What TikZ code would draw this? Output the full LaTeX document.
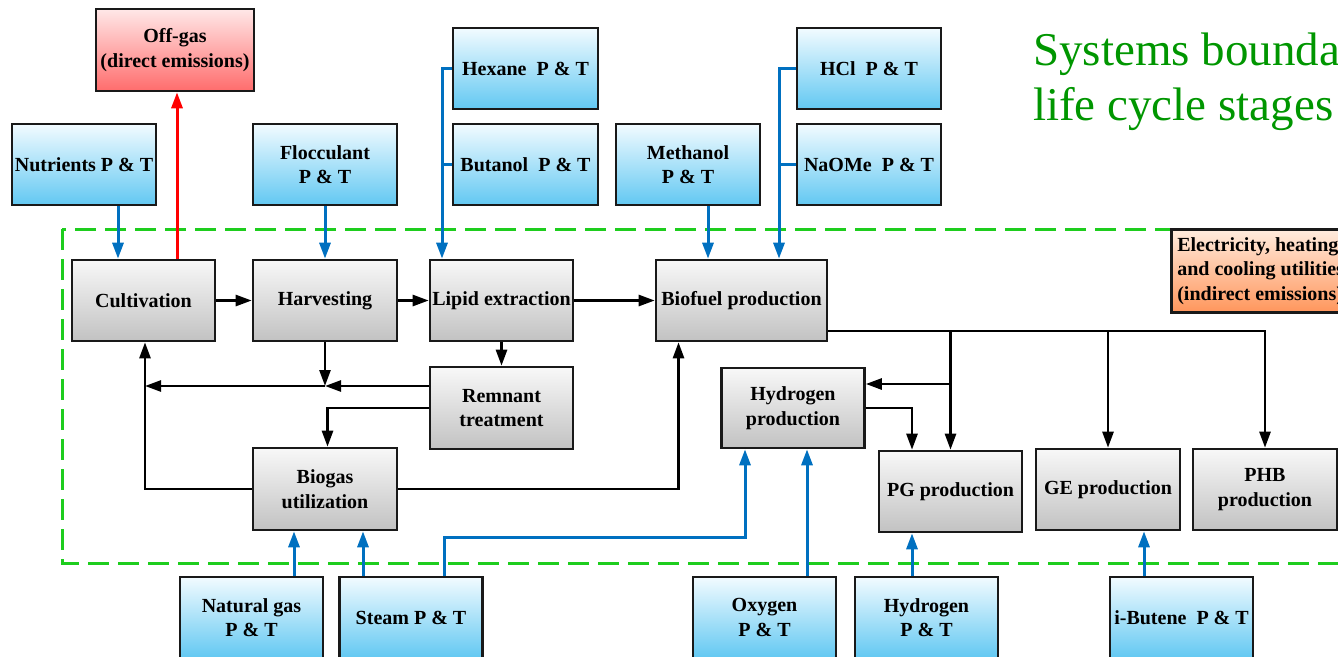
\documentclass[tikz,border=0pt]{standalone}
\usepackage{fontspec}
\setmainfont{Liberation Serif}
\usetikzlibrary{arrows.meta}
\definecolor{feedtop}{RGB}{242,251,255}
\definecolor{feedbot}{RGB}{98,200,242}
\definecolor{proctop}{RGB}{248,248,248}
\definecolor{procbot}{RGB}{194,194,194}
\definecolor{gastop}{RGB}{255,232,232}
\definecolor{gasbot}{RGB}{255,108,108}
\definecolor{utiltop}{RGB}{255,236,222}
\definecolor{utilbot}{RGB}{255,150,92}
\definecolor{lineblue}{RGB}{0,112,192}
\definecolor{bordergreen}{RGB}{30,205,30}
\definecolor{titlegreen}{RGB}{0,150,0}
\begin{document}
\begin{tikzpicture}[x=1pt,y=-1pt,
  box/.style={draw=black!90, line width=2.6pt, minimum height=81pt, inner sep=1pt,
    align=center, font=\fontsize{20}{24.5}\selectfont\bfseries},
  feed/.style={box, minimum width=144pt, top color=feedtop, bottom color=feedbot},
  proc/.style={box, minimum width=143pt, top color=proctop, bottom color=procbot},
  arr/.style={line width=2.6pt, -{Triangle[length=16pt,width=11pt]}},
  barr/.style={line width=3pt, draw=lineblue, -{Triangle[length=16pt,width=11pt]}},
  bline/.style={line width=3pt, draw=lineblue},
  rarr/.style={line width=3pt, draw=red, -{Triangle[length=16pt,width=11pt]}},
]
\useasboundingbox (0,0) rectangle (1338,656);

% system boundary
\draw[bordergreen, line width=3pt, dash pattern=on 21pt off 9pt] (62,229) rectangle (1380,563);

% title
\node[anchor=base west, inner sep=0, text=titlegreen, font=\fontsize{47}{56}\selectfont] (title1) at (1033,65) {Systems bounda};
\node[anchor=base west, inner sep=0, text=titlegreen, font=\fontsize{47}{56}\selectfont] (title2) at (1033,120.7) {life cycle stages};

% emissions and utilities
\node[box, minimum width=158pt, minimum height=82pt, top color=gastop, bottom color=gasbot] (offgas) at (175,50) {Off-gas\\(direct emissions)};
\node[box, anchor=north west, minimum height=83pt, align=left, inner xsep=6pt, top color=utiltop, bottom color=utilbot] (util) at (1170,228) {Electricity, heating\\and cooling utilities\\(indirect emissions)};

% feedstock inputs, top row
\node[feed] (nut) at (84,164.5) {Nutrients P \& T};
\node[feed] (floc) at (325,164.5) {Flocculant\\P \& T};
\node[feed, minimum width=145pt] (hex) at (525.5,68.5) {Hexane\ \ P \& T};
\node[feed, minimum width=145pt] (but) at (525.5,164.5) {Butanol\ \ P \& T};
\node[feed] (meth) at (688,164.5) {Methanol\\P \& T};
\node[feed] (hcl) at (869,68.5) {HCl\ \ P \& T};
\node[feed] (naome) at (869,164.5) {NaOMe\ \ P \& T};

% process stages
\node[proc] (cult) at (143.5,300.5) {Cultivation};
\node[proc, minimum width=144pt] (harv) at (325,300.5) {Harvesting};
\node[proc] (lipid) at (501.5,300.5) {Lipid extraction};
\node[proc, minimum width=171pt] (bio) at (741.5,300.5) {Biofuel production};
\node[proc, minimum height=82pt] (rem) at (501.5,408) {Remnant\\treatment};
\node[proc, minimum width=144pt, minimum height=82pt] (bg) at (325,489) {Biogas\\utilization};
\node[proc, minimum height=80pt] (h2) at (793,408) {Hydrogen\\production};
\node[proc] (pg) at (950.5,491.5) {PG production};
\node[proc, minimum width=144pt] (ge) at (1108,489.5) {GE production};
\node[proc, minimum width=144pt] (phb) at (1265,489.5) {PHB\\production};

% feedstock inputs, bottom row
\node[feed, minimum width=143pt] (ng) at (251.5,617.5) {Natural gas\\P \& T};
\node[feed, minimum width=143pt] (steam) at (411,617.5) {Steam P \& T};
\node[feed, minimum width=143pt] (oxy) at (764.5,617.5) {Oxygen\\P \& T};
\node[feed, minimum width=143pt] (hyd) at (926.5,617.5) {Hydrogen\\P \& T};
\node[feed, minimum width=143pt] (ibut) at (1181.5,617.5) {i-Butene\ \ P \& T};

% inputs from above
\coordinate (nutout) at ([xshift=34]nut.south);
\draw[barr] (nutout) -- (nutout |- cult.north);
\coordinate (offin) at ([xshift=33.5]cult.north);
\draw[rarr] (offin) -- (offin |- offgas.south);
\draw[barr] (floc.south) -- (harv.north);
\coordinate (lipin) at ([xshift=-59.5]lipid.north);
\draw[barr] (hex.west) -| (lipin);
\draw[bline] (but.west) -- (but.west -| lipin);
\coordinate (methin) at ([xshift=-33.5]bio.north);
\draw[barr] (methin |- meth.south) -- (methin);
\coordinate (hclin) at ([xshift=37.5]bio.north);
\draw[barr] (hcl.west) -| (hclin);
\draw[bline] (naome.west) -- (naome.west -| hclin);

% main chain
\draw[arr] (cult) -- (harv);
\draw[arr] (harv) -- (lipid);
\draw[arr] (lipid) -- (bio);
\draw[arr] (lipid.south) -- (rem.north);

% recycle loops
\coordinate (remup) at ([yshift=22]rem.west);
\coordinate (mix) at (harv.south |- remup);
\coordinate (cultin) at ([xshift=1.5]cult.south);
\draw[arr] (harv.south) -- (mix);
\draw[arr] (remup) -- (mix);
\draw[arr] (mix) -- (mix -| cultin);
\coordinate (bgin) at ([xshift=2.5]bg.north);
\draw[arr] (rem.west) -| (bgin);
\draw[arr] (bg.west) -| (cultin);
\coordinate (bioin) at ([xshift=-63]bio.south);
\draw[arr] (bg.east) -| (bioin);

% products
\coordinate (bioout) at ([yshift=-30.5]bio.east);
\draw[arr] (bioout) -| (phb.north);
\draw[arr] (bioout -| pg.north) -- (pg.north);
\draw[arr] (bioout -| ge.north) -- (ge.north);
\coordinate (h2in) at ([yshift=24]h2.east);
\draw[arr] (h2in -| pg.north) -- (h2in);
\coordinate (pgin) at ([xshift=-38.5]pg.north);
\draw[arr] (h2.east) -| (pgin);

% inputs from below
\coordinate (ngout) at ([xshift=42.5]ng.north);
\draw[barr] (ngout) -- (ngout |- bg.south);
\coordinate (stout) at ([xshift=-48]steam.north);
\draw[barr] (stout) -- (stout |- bg.south);
\coordinate (st2) at ([xshift=33]steam.north);
\coordinate (h2inA) at ([xshift=-48]h2.south);
\draw[barr] (st2) -- ++(0,-38) -| (h2inA);
\coordinate (oxout) at ([xshift=42.5]oxy.north);
\draw[barr] (oxout) -- (oxout |- h2.south);
\coordinate (hyout) at ([xshift=-14.5]hyd.north);
\draw[barr] (hyout) -- (hyout |- pg.south);
\coordinate (ibout) at ([xshift=-37.5]ibut.north);
\draw[barr] (ibout) -- (ibout |- ge.south);
\end{tikzpicture}
\end{document}
